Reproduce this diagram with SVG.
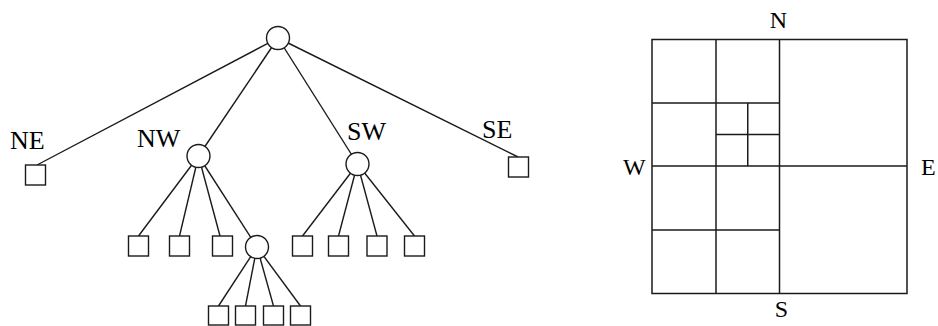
<svg xmlns="http://www.w3.org/2000/svg" width="938" height="326" viewBox="0 0 938 326">
  <style>
    .edge { stroke: #1a1a1a; stroke-width: 1.4; fill: none; }
    .inner { fill: #fff; stroke: #1a1a1a; stroke-width: 1.4; }
    .leaf { fill: #fff; stroke: #1a1a1a; stroke-width: 1.4; }
    .grid { stroke: #1a1a1a; stroke-width: 1.5; fill: none; }
    .lbl { font-family: "Liberation Serif", "Times New Roman", serif; fill: #000; }
    .tl { font-size: 26px; }
    .gl { font-size: 24px; }
  </style>
  <rect width="938" height="326" fill="#fff"/>

  <!-- tree connectors -->
  <g id="connectors" class="edge">
    <line x1="278" y1="38" x2="37" y2="165"/>
    <line x1="278" y1="38" x2="198.5" y2="156"/>
    <line x1="278" y1="38" x2="357.5" y2="164"/>
    <line x1="278" y1="38" x2="518" y2="157"/>
    <line x1="198.5" y1="156" x2="138.5" y2="236"/>
    <line x1="198.5" y1="156" x2="179.5" y2="236"/>
    <line x1="198.5" y1="156" x2="220" y2="236"/>
    <line x1="198.5" y1="156" x2="257" y2="247"/>
    <line x1="357.5" y1="164" x2="302.5" y2="236"/>
    <line x1="357.5" y1="164" x2="338.5" y2="236"/>
    <line x1="357.5" y1="164" x2="377" y2="236"/>
    <line x1="357.5" y1="164" x2="414.5" y2="236"/>
    <line x1="257" y1="247" x2="218.5" y2="306"/>
    <line x1="257" y1="247" x2="245.5" y2="306"/>
    <line x1="257" y1="247" x2="273.5" y2="306"/>
    <line x1="257" y1="247" x2="300.5" y2="306"/>
  </g>

  <!-- tree nodes -->
  <g id="root"><circle class="inner" cx="278" cy="38" r="11.5"/></g>
  <g id="ne"><rect class="leaf" x="25.5" y="165" width="20" height="20"/></g>
  <g id="nw"><circle class="inner" cx="198.5" cy="156" r="11.5"/></g>
  <g id="sw"><circle class="inner" cx="357.5" cy="164" r="11.5"/></g>
  <g id="se"><rect class="leaf" x="508.5" y="157" width="20" height="20"/></g>
  <g id="nw-1"><rect class="leaf" x="128.5" y="236" width="20" height="20"/></g>
  <g id="nw-2"><rect class="leaf" x="169.5" y="236" width="20" height="20"/></g>
  <g id="nw-3"><rect class="leaf" x="212.5" y="236" width="20" height="20"/></g>
  <g id="nw-4"><circle class="inner" cx="257" cy="247" r="11.5"/></g>
  <g id="sw-1"><rect class="leaf" x="292.5" y="236" width="20" height="20"/></g>
  <g id="sw-2"><rect class="leaf" x="328.5" y="236" width="20" height="20"/></g>
  <g id="sw-3"><rect class="leaf" x="367" y="236" width="20" height="20"/></g>
  <g id="sw-4"><rect class="leaf" x="404.5" y="236" width="20" height="20"/></g>
  <g id="nw-4-1"><rect class="leaf" x="208.5" y="306" width="20" height="19"/></g>
  <g id="nw-4-2"><rect class="leaf" x="235.5" y="306" width="20" height="19"/></g>
  <g id="nw-4-3"><rect class="leaf" x="263.5" y="306" width="20" height="19"/></g>
  <g id="nw-4-4"><rect class="leaf" x="290.5" y="306" width="20" height="19"/></g>

  <!-- tree labels -->
  <g id="tree-labels" class="lbl tl">
    <text x="10" y="149">NE</text>
    <text x="137" y="147">NW</text>
    <text x="347" y="140">SW</text>
    <text x="482" y="138">SE</text>
  </g>

  <!-- quadtree subdivision -->
  <g id="quadtree" class="grid">
    <rect x="652" y="39.5" width="255" height="254"/>
    <line x1="779.5" y1="39.5" x2="779.5" y2="293.5"/>
    <line x1="652" y1="166" x2="907" y2="166"/>
    <line x1="716" y1="39.5" x2="716" y2="293.5"/>
    <line x1="652" y1="103" x2="779.5" y2="103"/>
    <line x1="652" y1="230" x2="779.5" y2="230"/>
    <line x1="747.75" y1="103" x2="747.75" y2="166"/>
    <line x1="716" y1="134.5" x2="779.5" y2="134.5"/>
  </g>

  <g id="compass-labels" class="lbl gl">
    <text x="778.5" y="28" text-anchor="middle">N</text>
    <text x="781.5" y="317" text-anchor="middle">S</text>
    <text x="623" y="175">W</text>
    <text x="921" y="175">E</text>
  </g>
</svg>
